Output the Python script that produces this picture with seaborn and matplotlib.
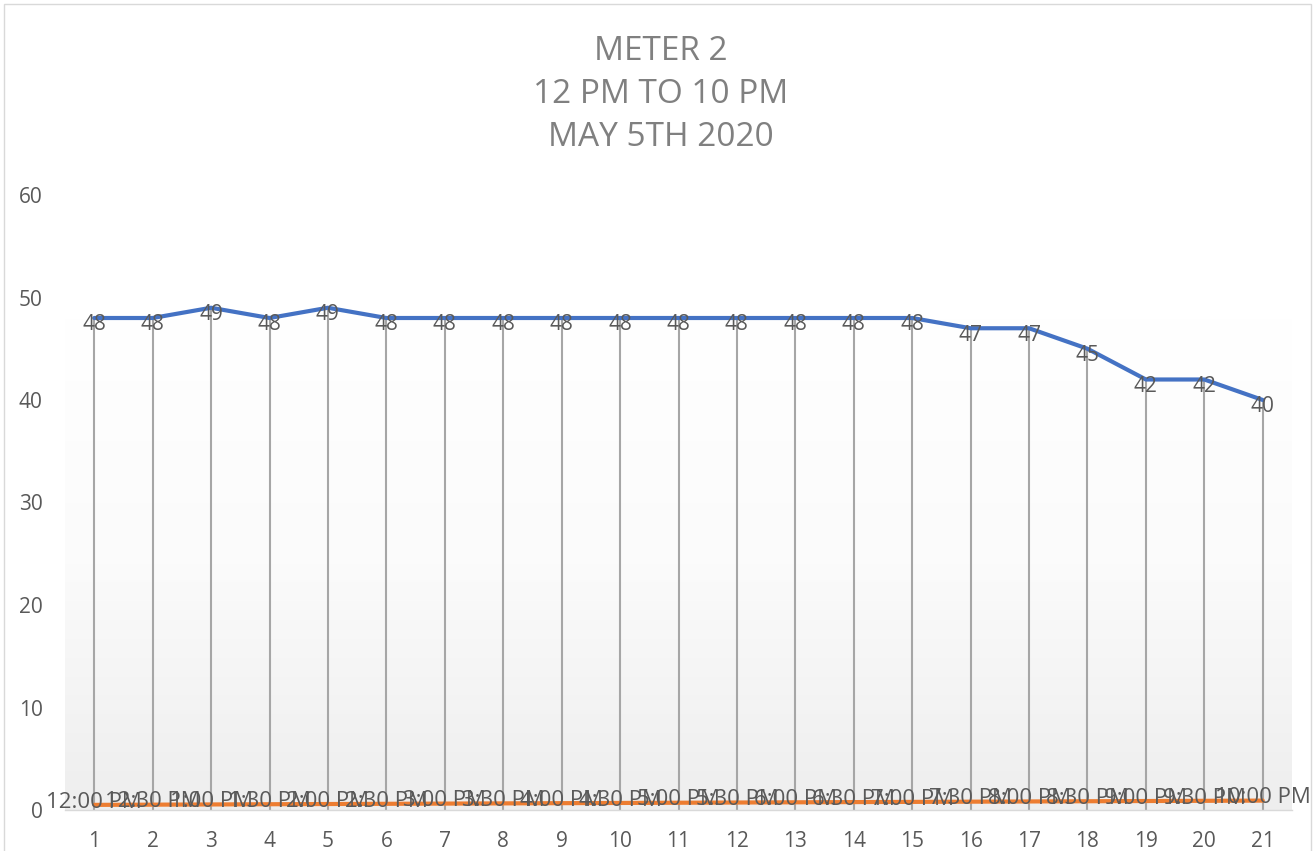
import numpy as np
import pandas as pd
import matplotlib
matplotlib.use("Agg")
import matplotlib.pyplot as plt
from matplotlib.colors import LinearSegmentedColormap
import seaborn as sns

# data
points = list(range(1, 22))
meter_values = [48, 48, 49, 48, 49, 48, 48, 48, 48, 48, 48, 48, 48, 48, 48, 47, 47, 45, 42, 42, 40]
time_labels = ["12:00 PM", "12:30 PM", "1:00 PM", "1:30 PM", "2:00 PM", "2:30 PM", "3:00 PM",
               "3:30 PM", "4:00 PM", "4:30 PM", "5:00 PM", "5:30 PM", "6:00 PM", "6:30 PM",
               "7:00 PM", "7:30 PM", "8:00 PM", "8:30 PM", "9:00 PM", "9:30 PM", "10:00 PM"]
# time of day as fraction of a day (Excel serial time)
time_values = [0.5000, 0.5208, 0.5417, 0.5625, 0.5833, 0.6042, 0.6250, 0.6458, 0.6667, 0.6875,
               0.7083, 0.7292, 0.7500, 0.7708, 0.7917, 0.8125, 0.8333, 0.8542, 0.8750, 0.8958,
               0.9167]
title_lines = ["METER 2", "12 PM TO 10 PM", "MAY 5TH 2020"]
y_ticks = [0, 10, 20, 30, 40, 50, 60]

sns.set_style("white")
plt.rcParams['font.family'] = ['Open Sans', 'DejaVu Sans']

TEXT = "#595959"
BLUE = "#4472C4"
ORANGE = "#ED7D31"

df = pd.DataFrame({"point": points, "meter": meter_values, "time": time_values})

W, H = 1315, 851
fig = plt.figure(figsize=(W / 100, H / 100), dpi=100)
left, right, top, bottom = 65, 1292, 195, 810
ax = fig.add_axes([left / W, 1 - bottom / H, (right - left) / W, (bottom - top) / H])

# plot area gradient, white at top to light grey at bottom
grad = np.linspace(1, 0, 256).reshape(-1, 1)
grad = np.clip(grad / 0.8, 0, 1)
cmap = LinearSegmentedColormap.from_list("bg", ["#eeeeee", "#fbfbfb", "#ffffff"])
ax.imshow(grad, cmap=cmap, aspect="auto", extent=(0.5, 21.5, 0, 60), zorder=0, vmin=0, vmax=1)

# drop lines
ax.vlines(df["point"], 0, df["meter"], color="#a6a6a6", lw=1.5, zorder=1)

sns.lineplot(data=df, x="point", y="meter", color=BLUE, lw=3, ax=ax, zorder=3)
sns.lineplot(data=df, x="point", y="time", color=ORANGE, lw=3, ax=ax, zorder=3)

for x, v in zip(points, meter_values):
    ax.annotate(f"{v:.0f}", (x, v), xytext=(0, -5), textcoords="offset points",
                ha="center", va="center", fontsize=15, color=TEXT, zorder=4)
for x, v, lab in zip(points, time_values, time_labels):
    ax.annotate(lab, (x, v), xytext=(0, 2), textcoords="offset points",
                ha="center", va="center", fontsize=16, color=TEXT, zorder=4)

ax.set_xlim(0.5, 21.5)
ax.set_ylim(0, 60)
ax.set_xticks(points)
ax.set_xticklabels([str(p) for p in points])
ax.set_yticks(y_ticks)
ax.set_yticklabels([str(t) for t in y_ticks])
ax.tick_params(axis="x", length=0, pad=15, labelsize=15, labelcolor=TEXT)
ax.tick_params(axis="y", length=0, pad=16, labelsize=15, labelcolor=TEXT)
ax.set_xlabel("")
ax.set_ylabel("")
for side in ["top", "left", "right"]:
    ax.spines[side].set_visible(False)
ax.spines["bottom"].set_color("#d9d9d9")
ax.spines["bottom"].set_linewidth(1)
ax.set_facecolor("none")

for i, line in enumerate(title_lines):
    fig.text(661 / W, 1 - (51 + i * 43.5) / H, line, ha="center", va="center",
             fontsize=24, color="#808080")

# chart area border
border = plt.Rectangle((4 / W, -0.01), (1311 - 4) / W, 1 - 4 / H + 0.01,
                       transform=fig.transFigure, fill=False, edgecolor="#d9d9d9", lw=1)
fig.patches.append(border)

fig.savefig("out.png", dpi=100)
